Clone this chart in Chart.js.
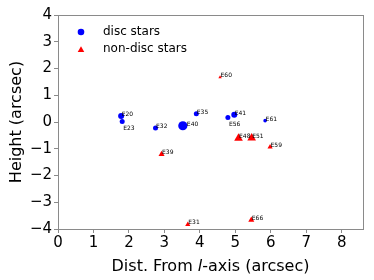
<!DOCTYPE html>
<html><head><meta charset="utf-8">
<script src="https://cdn.jsdelivr.net/npm/chart.js@4/dist/chart.umd.min.js"></script>
<style>html,body{margin:0;padding:0;background:#fff}#wrap{width:374px;height:280px}</style>
</head><body><div id="wrap"><canvas id="c" width="374" height="280"></canvas></div>
<script>
// Disc stars
const discNames = ['E20','E23','E32','E40','E35','E56','E41','E61'];
const discX = [1.78, 1.81, 2.75, 3.52, 3.90, 4.79, 4.97, 5.84];
const discY = [0.22, 0.02, -0.22, -0.14, 0.31, 0.17, 0.27, 0.05];
const discSize = [3, 2.5, 2.5, 4.6, 2.5, 2.5, 3, 1.8];
// Non-disc stars
const nonNames = ['E60','E48','E51','E59','E39','E31','E66'];
const nonX = [4.57, 5.09, 5.46, 5.98, 2.92, 3.66, 5.45];
const nonY = [1.67, -0.61, -0.60, -0.93, -1.21, -3.83, -3.66];
const nonSize = [2, 5, 5, 3, 3.5, 3, 3.5];
// Axis ticks
const xTicks = [0,1,2,3,4,5,6,7,8];
const yTicks = [-4,-3,-2,-1,0,1,2,3,4];
// label offsets (styling): [dx, dy] in px
const labelShift = {E23:[1,9], E56:[1,9], E40:[4,0]};

const FONT = "'DejaVu Sans', sans-serif";
const GRAY = '#8a8a8a';

const decor = {
  id: 'decor',
  afterDatasetsDraw(chart) {
    const ctx = chart.ctx, a = chart.chartArea;
    ctx.save();
    ctx.strokeStyle = GRAY; ctx.lineWidth = 1;
    ctx.strokeRect(Math.round(a.left)+0.5, Math.round(a.top)+0.5, Math.round(a.right-a.left), Math.round(a.bottom-a.top));
    // point labels
    ctx.fillStyle = '#000';
    ctx.font = '6px ' + FONT;
    ctx.textBaseline = 'alphabetic'; ctx.textAlign = 'left';
    chart.data.datasets.forEach((ds, di) => {
      const meta = chart.getDatasetMeta(di);
      meta.data.forEach((el, i) => {
        const n = ds.names[i];
        const s = labelShift[n] || [0.5, 0];
        ctx.fillText(n, el.x + s[0], el.y + s[1]);
      });
    });
    // legend
    ctx.fillStyle = '#0000ff';
    ctx.beginPath(); ctx.arc(81, 32, 3.3, 0, Math.PI*2); ctx.fill();
    ctx.fillStyle = '#ff0000';
    const tr = 3.8, tx = 81, ty = 50;
    ctx.beginPath();
    ctx.moveTo(tx, ty - tr); ctx.lineTo(tx + tr*0.866, ty + tr*0.5); ctx.lineTo(tx - tr*0.866, ty + tr*0.5); ctx.closePath(); ctx.fill();
    ctx.fillStyle = '#000';
    ctx.font = '12px ' + FONT;
    ctx.textBaseline = 'middle';
    ctx.fillText('disc stars', 103, 32);
    ctx.fillText('non-disc stars', 103, 49);
    // x title with italic l
    const F = '16px ' + FONT, FI = 'italic 16px ' + FONT;
    ctx.font = F;
    const p1 = 'Dist. From ', p2 = 'l', p3 = '-axis (arcsec)';
    const w1 = ctx.measureText(p1).width, w3 = ctx.measureText(p3).width;
    ctx.font = FI;
    const w2 = ctx.measureText(p2).width;
    const total = w1 + w2 + w3;
    let x0 = (a.left + a.right)/2 - total/2;
    const yT = 267;
    ctx.font = F; ctx.fillText(p1, x0, yT);
    ctx.font = FI; ctx.fillText(p2, x0 + w1, yT);
    ctx.font = F; ctx.fillText(p3, x0 + w1 + w2, yT);
    ctx.restore();
  }
};

new Chart(document.getElementById('c'), {
  type: 'scatter',
  data: {
    datasets: [
      { label: 'disc stars', names: discNames,
        data: discX.map((x,i)=>({x, y: discY[i]})),
        pointStyle: 'circle', pointRadius: discSize, pointHoverRadius: discSize,
        backgroundColor: '#0000ff', borderColor: '#0000ff', borderWidth: 0 },
      { label: 'non-disc stars', names: nonNames,
        data: nonX.map((x,i)=>({x, y: nonY[i]})),
        pointStyle: 'triangle', pointRadius: nonSize, pointHoverRadius: nonSize,
        backgroundColor: '#ff0000', borderColor: '#ff0000', borderWidth: 0 }
    ]
  },
  options: {
    responsive: false, animation: false, devicePixelRatio: 1,
    layout: { padding: { top: 15, right: 11, left: 0, bottom: 0 } },
    plugins: { legend: { display: false }, tooltip: { enabled: false } },
    scales: {
      x: { type: 'linear', min: 0, max: 8.6,
        afterBuildTicks: s => { s.ticks = xTicks.map(v => ({value: v})); },
        afterFit: s => { s.height = 51; },
        grid: { drawOnChartArea: false, color: GRAY, tickLength: 4, tickColor: GRAY },
        border: { color: GRAY },
        ticks: { color: '#000', font: { family: FONT, size: 15 }, padding: 1, maxRotation: 0 },
        title: { display: false } },
      y: { type: 'linear', min: -4, max: 4,
        afterBuildTicks: s => { s.ticks = yTicks.map(v => ({value: v})); },
        afterFit: s => { s.width = 58; },
        grid: { drawOnChartArea: false, color: GRAY, tickLength: 4, tickColor: GRAY },
        border: { color: GRAY },
        ticks: { color: '#000', font: { family: FONT, size: 15 }, padding: 2,
          callback: v => String(v).replace('-', '\u2212') },
        title: { display: true, text: 'Height (arcsec)', color: '#000', font: { family: FONT, size: 16 }, padding: { top: 7, bottom: 0 } } }
    }
  },
  plugins: [decor]
});
</script></body></html>
